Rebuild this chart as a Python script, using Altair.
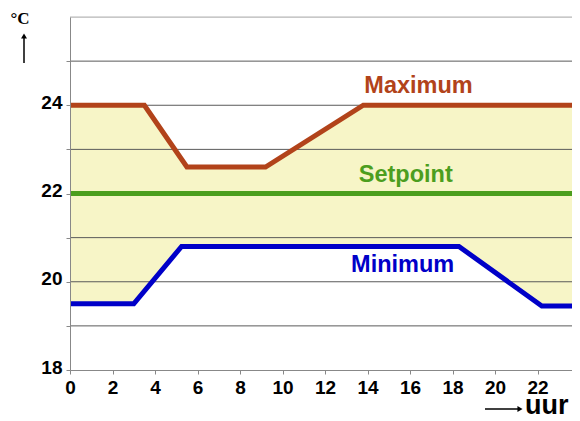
import altair as alt
import pandas as pd

# ---- data ----
max_hours = [0, 3.5, 5.5, 9.2, 13.8, 24]
max_temps = [24, 24, 22.6, 22.6, 24, 24]
min_hours = [0, 3, 5.25, 18.3, 22.2, 24]
min_temps = [19.5, 19.5, 20.8, 20.8, 19.45, 19.45]
set_hours = [0, 24]
set_temps = [22, 22]

label_text = ["Maximum", "Setpoint", "Minimum"]
label_hours = [16.4, 15.8, 15.65]
label_temps = [24.27, 22.26, 20.23]

grid_values = [19, 20, 21, 22, 23, 24, 25, 26]
x_tick_values = [0, 2, 4, 6, 8, 10, 12, 14, 16, 18, 20, 22]
y_tick_values = [18, 19, 20, 21, 22, 23, 24, 25]

BROWN = "#b2431a"
GREEN = "#4c9e1e"
BLUE = "#0000c8"
FILL = "#f7f5c7"
FONT = "Liberation Sans"

max_df = pd.DataFrame({"uur": max_hours, "temp": max_temps})
min_df = pd.DataFrame({"uur": min_hours, "temp": min_temps})
set_df = pd.DataFrame({"uur": set_hours, "temp": set_temps})
lab_df = pd.DataFrame({"text": label_text, "uur": label_hours, "temp": label_temps,
                       "color": [BROWN, GREEN, BLUE]})
grid_df = pd.DataFrame({"temp": grid_values})
one = pd.DataFrame({"a": [0]})

# the reference's plot is cut off at the right edge of the picture
xscale = alt.Scale(domain=[0, 23.62], nice=False, zero=False)
yscale = alt.Scale(domain=[18, 26], nice=False, zero=False)

x_axis = alt.Axis(values=x_tick_values, title=None, grid=False, tickSize=4,
                  tickColor="#888888", domainColor="#888888", labelFont=FONT,
                  labelFontSize=19, labelFontWeight="bold", labelColor="black",
                  labelPadding=4, labelFlush=False, zindex=1)
y_axis = alt.Axis(values=y_tick_values, title=None, grid=False, tickSize=4,
                  tickColor="#888888", domainColor="#888888", labelFont=FONT,
                  labelFontSize=19, labelFontWeight="bold", labelColor="black",
                  labelPadding=4, labelFlush=False, labelOffset=-3, zindex=1,
                  labelExpr="datum.value % 2 == 0 ? datum.label : ''")

X = alt.X("uur:Q", scale=xscale, axis=x_axis)
Y = alt.Y("temp:Q", scale=yscale, axis=y_axis)

band_top = alt.Chart(max_df).mark_area(color=FILL, opacity=1, clip=True).encode(
    x=X, y=Y, y2=alt.datum(18))
band_cut = alt.Chart(min_df).mark_area(color="white", opacity=1, clip=True).encode(
    x=X, y=Y, y2=alt.datum(18))

grid = alt.Chart(grid_df).mark_rule(strokeWidth=1).encode(
    y=Y,
    color=alt.condition("datum.temp == 26", alt.value("#b4b4b4"), alt.value("#5a5a5a")))

max_line = alt.Chart(max_df).mark_line(color=BROWN, strokeWidth=5, clip=True).encode(x=X, y=Y)
set_line = alt.Chart(set_df).mark_line(color=GREEN, strokeWidth=5, clip=True).encode(x=X, y=Y)
min_line = alt.Chart(min_df).mark_line(color=BLUE, strokeWidth=5, clip=True).encode(x=X, y=Y)

labels = alt.Chart(lab_df).mark_text(font=FONT, fontSize=23.5, fontWeight="bold",
                                     align="center", baseline="alphabetic").encode(
    x=X, y=Y, text="text:N", color=alt.Color("color:N", scale=None))

deg = alt.Chart(one).mark_text(text="°C", font="Liberation Serif", fontSize=17,
                               fontWeight="bold", align="center",
                               baseline="alphabetic", color="black").encode(
    x=alt.value(-50), y=alt.value(7))
up_shaft = alt.Chart(one).mark_rule(color="black", strokeWidth=1.5).encode(
    x=alt.value(-46), y=alt.value(20), y2=alt.value(46))
up_head = alt.Chart(one).mark_point(shape="triangle-up", filled=True, size=35,
                                    color="black", opacity=1).encode(
    x=alt.value(-46), y=alt.value(19))
right_shaft = alt.Chart(one).mark_rule(color="black", strokeWidth=1.5).encode(
    x=alt.value(415), x2=alt.value(449), y=alt.value(392))
right_head = alt.Chart(one).mark_point(shape="triangle-right", filled=True, size=35,
                                       color="black", opacity=1).encode(
    x=alt.value(450), y=alt.value(392))
uur = alt.Chart(one).mark_text(text="uur", font=FONT, fontSize=27, fontWeight="bold",
                               align="left", baseline="alphabetic", color="black").encode(
    x=alt.value(455), y=alt.value(397))

chart = alt.layer(
    band_top, band_cut, grid, set_line, max_line, min_line, labels,
    deg, up_shaft, up_head, right_shaft, right_head, uur
).properties(
    width=502, height=353,
    padding={"left": 62, "top": 9, "right": 0, "bottom": 51},
    autosize=alt.AutoSizeParams(type="none"),
).configure_view(stroke=None).configure(background="white")

chart.save("out.html", embed_options={"renderer": "svg", "actions": False})
